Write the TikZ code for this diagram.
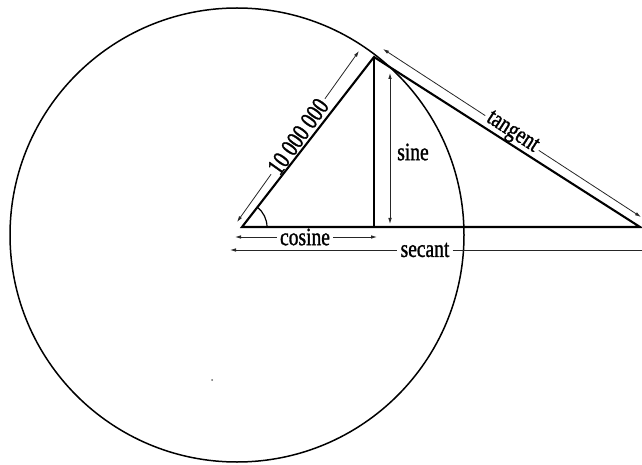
\documentclass[tikz,border=0pt]{standalone}
\usepackage{fontspec}
\setmainfont[FakeStretch=0.78,FakeBold=1.2]{Liberation Serif}
\usetikzlibrary{arrows.meta,angles,calc}
\begin{document}
\begin{tikzpicture}[x=1pt,y=1pt,
  heavy/.style={line width=2.1pt,line join=miter},
  circ/.style={line width=1.5pt},
  tip/.style={},
  dim/.style={line width=0.8pt,black!85,{Latex[length=6pt,width=3.6pt]}-{Latex[length=6pt,width=3.6pt]}},
  dimL/.style={line width=0.8pt,black!85,{Latex[length=6pt,width=3.6pt]}-},
  dimR/.style={line width=0.8pt,black!85,-{Latex[length=6pt,width=3.6pt]}},
  lab/.style={inner sep=3pt,font=\fontsize{25}{28}\selectfont}]
\useasboundingbox (0,0) rectangle (642,464);
% main points
\coordinate (C) at (237,229);
\coordinate (O) at (242,237);
\coordinate (P) at (374,407);
\coordinate (F) at (374,237);
\coordinate (S) at (640,237);
% circle
\draw[circ] (C) circle[radius=227pt];
% radius dimension
\coordinate (R1) at (237,242);
\coordinate (R2) at (359,413);
\node[lab,rotate=54.5] (Lr) at ($(R1)!0.5!(R2)$) {10\,000\,000};
\draw[dimL] (R1) -- (Lr.west);
\draw[dimR] (Lr.east) -- (R2);
% tangent dimension
\coordinate (T1) at (383,415);
\coordinate (T2) at (641,247);
\node[lab,rotate=-33] (Lt) at ($(T1)!0.5!(T2)$) {tangent};
\draw[dimL] (T1) -- (Lt.west);
\draw[dimR] (Lt.east) -- (T2);
% sine dimension
\coordinate (S1) at (390,391);
\coordinate (S2) at (390,240);
\draw[dim] (S1) -- (S2);
\node[lab] (Ls) at (413,312) {sine};
% cosine dimension
\coordinate (K1) at (235,227);
\coordinate (K2) at (377,227);
\node[lab] (Lc) at (305,227) {cosine};
\draw[dimL] (K1) -- (Lc.west);
\draw[dimR] (Lc.east) -- (K2);
% secant dimension
\coordinate (E1) at (230,214);
\coordinate (E2) at (642,214);
\node[lab] (Le) at (425,214) {secant};
\draw[dimL] (E1) -- (Le.west);
\draw[line width=0.8pt,black!85] (Le.east) -- (E2);
% triangle
\draw[heavy] (O) -- (P) -- (S) -- cycle;
\draw[heavy] (P) -- (F);
% angle mark
\pic[draw,line width=1.2pt,angle radius=25pt] {angle = S--O--P};
% speck
\fill[black!60] (212,84) circle[radius=1pt];
\end{tikzpicture}
\end{document}
